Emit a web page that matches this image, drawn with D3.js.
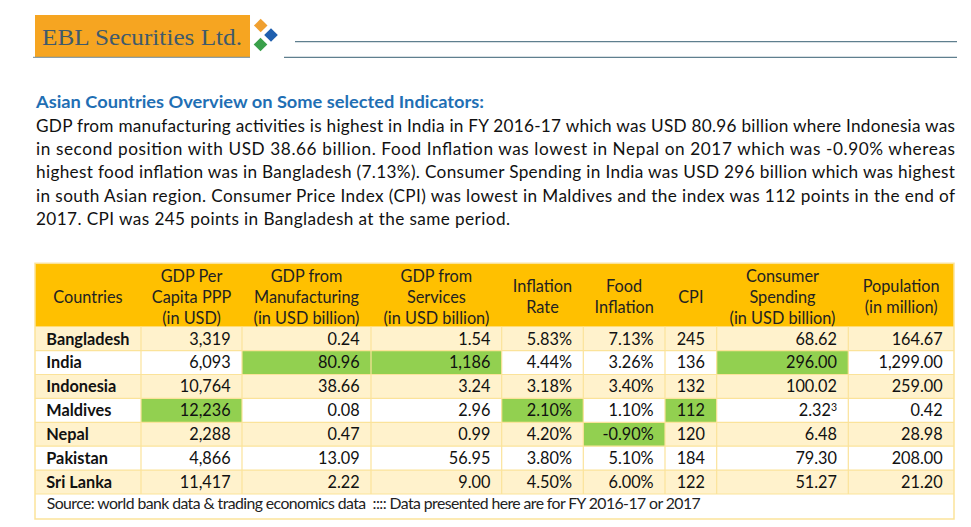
<!DOCTYPE html>
<html><head><meta charset="utf-8">
<script src="https://cdn.jsdelivr.net/npm/d3@7"></script>
<style>html,body{margin:0;padding:0;background:#fff;}svg{display:block;}</style>
</head><body>
<script>
// ---------- data ----------
const countries = ["Bangladesh","India","Indonesia","Maldives","Nepal","Pakistan","Sri Lanka"];
const gdpPerCapita = [3319, 6093, 10764, 12236, 2288, 4866, 11417];
const gdpManufacturing = [0.24, 80.96, 38.66, 0.08, 0.47, 13.09, 2.22];
const gdpServices = [1.54, 1186, 3.24, 2.96, 0.99, 56.95, 9.00];
const inflationRate = [5.83, 4.44, 3.18, 2.10, 4.20, 3.80, 4.50];
const foodInflation = [7.13, 3.26, 3.40, 1.10, -0.90, 5.10, 6.00];
const cpi = [245, 136, 132, 112, 120, 184, 122];
const consumerSpending = [68.62, 296.00, 100.02, 2.32, 6.48, 79.30, 51.27];
const population = [164.67, 1299.00, 259.00, 0.42, 28.98, 208.00, 21.20];
const headerLabels = [
  ["Countries"],
  ["GDP Per","Capita PPP","(in USD)"],
  ["GDP from","Manufacturing","(in USD billion)"],
  ["GDP from","Services","(in USD billion)"],
  ["Inflation","Rate"],
  ["Food","Inflation"],
  ["CPI"],
  ["Consumer","Spending","(in USD billion)"],
  ["Population","(in million)"]
];
const highlights = [["India",2],["India",3],["India",7],["Maldives",1],["Maldives",4],["Maldives",6],["Nepal",5]];
const footnotes = {"Maldives|7":"3"};
const title = "Asian Countries Overview on Some selected Indicators:";
const paragraph = [
  "GDP from manufacturing activities is highest in India in FY 2016-17 which was USD 80.96 billion where Indonesia was",
  "in second position with USD 38.66 billion. Food Inflation was lowest in Nepal on 2017 which was -0.90% whereas",
  "highest food inflation was in Bangladesh (7.13%). Consumer Spending in India was USD 296 billion which was highest",
  "in south Asian region. Consumer Price Index (CPI) was lowest in Maldives and the index was 112 points in the end of",
  "2017. CPI was 245 points in Bangladesh at the same period."
];
const sourceNote = "Source: world bank data & trading economics data  :::: Data presented here are for FY 2016-17 or 2017";
const brand = "EBL Securities Ltd.";

// ---------- layout ----------
const W = 971, H = 527;
const FONT = "Lato, 'Open Sans', sans-serif";
const colEdges = [35, 141, 242, 371, 501.7, 583.3, 665, 716.7, 848.3, 954];
const headerTop = 263.3, headerBottom = 326.7, rowsBottom = 494, sourceBottom = 519;

const fmtInt = d3.format(",");
const fmt2 = d3.format(",.2f");
const columns = [
  {values: countries, fmt: d => d, align: "start", bold: true},
  {values: gdpPerCapita, fmt: fmtInt, align: "end"},
  {values: gdpManufacturing, fmt: fmt2, align: "end"},
  {values: gdpServices, fmt: d => d >= 1000 ? fmtInt(d) : fmt2(d), align: "end"},
  {values: inflationRate, fmt: d => d3.format(".2f")(d) + "%", align: "end"},
  {values: foodInflation, fmt: d => d3.format(".2f")(d).replace("−","-") + "%", align: "end"},
  {values: cpi, fmt: d => String(d), align: "middle"},
  {values: consumerSpending, fmt: fmt2, align: "end"},
  {values: population, fmt: fmt2, align: "end"}
];

const svg = d3.select("body").append("svg").attr("width", W).attr("height", H)
  .style("font-family", FONT);

// ---------- logo ----------
svg.append("rect").attr("x", 35).attr("y", 15).attr("width", 215).attr("height", 42).attr("fill", "#f6a521");
svg.append("text").attr("x", 42).attr("y", 45).text(brand)
  .attr("font-family", "'Liberation Serif', 'DejaVu Serif', serif").attr("font-size", 23)
  .attr("fill", "#3f5a6c").attr("textLength", 200).attr("lengthAdjust", "spacingAndGlyphs");
const diamonds = [{cx: 260.7, cy: 25.5, c: "#f0a030"}, {cx: 271, cy: 35, c: "#1f5fae"}, {cx: 260.5, cy: 44.5, c: "#3aa04a"}];
svg.selectAll("path.dia").data(diamonds).join("path").attr("class", "dia")
  .attr("d", d => `M${d.cx},${d.cy-6.8}L${d.cx+6.8},${d.cy}L${d.cx},${d.cy+6.8}L${d.cx-6.8},${d.cy}Z`)
  .attr("fill", d => d.c);
svg.append("line").attr("x1", 33).attr("x2", 250).attr("y1", 57.3).attr("y2", 57.3).attr("stroke", "#6d8794").attr("stroke-width", 1);
svg.append("line").attr("x1", 295).attr("x2", 957).attr("y1", 41.7).attr("y2", 41.7).attr("stroke", "#5f7f8e").attr("stroke-width", 1.3);
svg.append("line").attr("x1", 284).attr("x2", 957).attr("y1", 57.3).attr("y2", 57.3).attr("stroke", "#5f7f8e").attr("stroke-width", 1.3);

// ---------- title & paragraph ----------
svg.append("text").attr("x", 36).attr("y", 108).text(title)
  .attr("font-size", 16.8).attr("font-weight", "bold").attr("fill", "#1f6fb4")
  .attr("textLength", 448).attr("lengthAdjust", "spacingAndGlyphs");
const lineY = d3.scaleLinear().domain([0, 4]).range([131.5, 225]);
const lineWidths = [919, 919, 919, 919, 474];
svg.selectAll("text.para").data(paragraph).join("text").attr("class", "para")
  .attr("x", 36).attr("y", (d, i) => lineY(i)).text(d => d)
  .attr("font-size", 17.2).attr("fill", "#111")
  .attr("textLength", (d, i) => lineWidths[i]).attr("lengthAdjust", "spacing");

// ---------- table ----------
const y = d3.scaleBand().domain(countries).range([headerBottom, rowsBottom]);
const g = svg.append("g");

g.append("rect").attr("x", colEdges[0]).attr("y", headerTop).attr("width", colEdges[9] - colEdges[0])
  .attr("height", headerBottom - headerTop).attr("fill", "#ffc000");

g.selectAll("rect.row").data(countries).join("rect").attr("class", "row")
  .attr("x", colEdges[0]).attr("y", d => y(d)).attr("width", colEdges[9] - colEdges[0]).attr("height", y.bandwidth())
  .attr("fill", (d, i) => i % 2 === 0 ? "#fff2cc" : "#ffffff");
g.append("rect").attr("x", colEdges[0]).attr("y", rowsBottom).attr("width", colEdges[9] - colEdges[0])
  .attr("height", sourceBottom - rowsBottom).attr("fill", "#ffffff");

g.selectAll("rect.hl").data(highlights).join("rect").attr("class", "hl")
  .attr("x", d => colEdges[d[1]]).attr("y", d => y(d[0]))
  .attr("width", d => colEdges[d[1] + 1] - colEdges[d[1]]).attr("height", y.bandwidth())
  .attr("fill", "#92d050");

const gridColor = "#fbe39a";
g.selectAll("line.h").data(countries.slice(1).concat(["__end"])).join("line").attr("class", "h")
  .attr("x1", colEdges[0]).attr("x2", colEdges[9])
  .attr("y1", d => d === "__end" ? rowsBottom : y(d)).attr("y2", d => d === "__end" ? rowsBottom : y(d))
  .attr("stroke", gridColor).attr("stroke-width", 1.2);
g.selectAll("line.v").data(colEdges.slice(1, -1)).join("line").attr("class", "v")
  .attr("x1", d => d).attr("x2", d => d).attr("y1", headerBottom).attr("y2", rowsBottom)
  .attr("stroke", gridColor).attr("stroke-width", 1.2);
g.append("rect").attr("x", colEdges[0]).attr("y", headerTop).attr("width", colEdges[9] - colEdges[0])
  .attr("height", sourceBottom - headerTop).attr("fill", "none").attr("stroke", gridColor).attr("stroke-width", 1.5);

const hdrLineY = {1: [296.7], 2: [286, 307.5], 3: [276.3, 297, 318.2]};
headerLabels.forEach((lines, ci) => {
  const cx = (colEdges[ci] + colEdges[ci + 1]) / 2;
  const ys = hdrLineY[lines.length];
  g.selectAll(null).data(lines).join("text")
    .attr("x", cx).attr("y", (d, i) => ys[i]).attr("dy", "0.36em").attr("text-anchor", "middle")
    .attr("font-size", 16.3).attr("fill", "#222").text(d => d);
});

const pad = 11.3;
columns.forEach((col, ci) => {
  const x = col.align === "start" ? colEdges[ci] + pad : col.align === "end" ? colEdges[ci + 1] - pad : (colEdges[ci] + colEdges[ci + 1]) / 2;
  g.selectAll(null).data(col.values).join("text")
    .attr("x", x).attr("y", (d, i) => y(countries[i]) + y.bandwidth() / 2).attr("dy", "0.36em")
    .attr("text-anchor", col.align).attr("font-size", 16.3).attr("fill", "#111")
    .attr("font-weight", col.bold ? "bold" : "normal")
    .each(function(d, i) {
      const t = d3.select(this);
      t.append("tspan").text(col.fmt(d));
      const fn = footnotes[countries[i] + "|" + ci];
      if (fn) t.append("tspan").attr("font-size", 10.5).attr("baseline-shift", "45%").text(fn);
    });
});

g.append("text").attr("x", 46.7).attr("y", 508.5).text(sourceNote)
  .attr("font-size", 15.8).attr("fill", "#222")
  .attr("textLength", 654).attr("lengthAdjust", "spacing")
  .attr("xml:space", "preserve");
</script>
</body></html>
